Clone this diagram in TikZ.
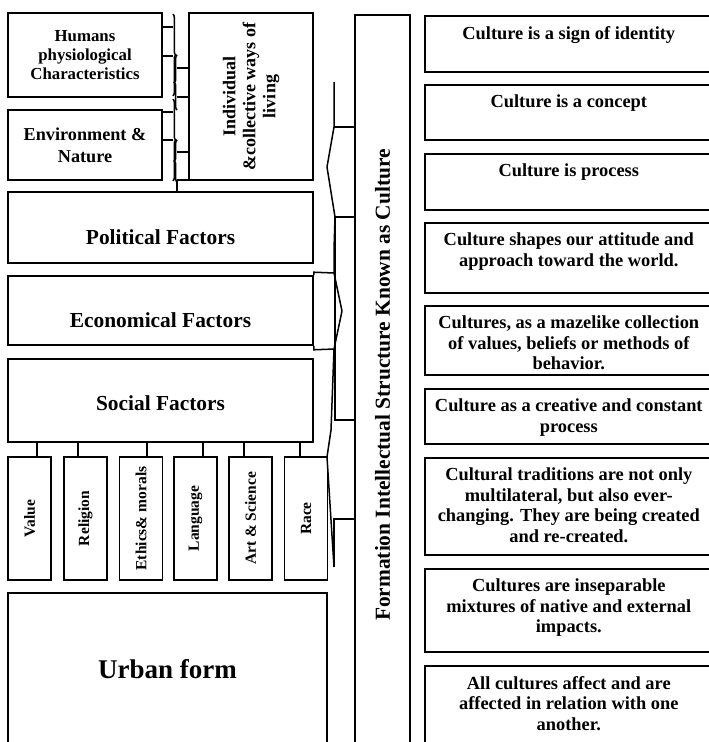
\documentclass[tikz,border=0pt]{standalone}
\usepackage{fontspec}
\setmainfont{Liberation Serif}
\usetikzlibrary{positioning,calc,decorations.pathreplacing}
\tikzset{
  box/.style={draw, line width=1.6pt, align=center, inner sep=2pt},
  lbox/.style={box, minimum width=154},
  fbox/.style={box, minimum width=305},
  ftext/.style={font=\fontsize{21.4}{24}\selectfont\bfseries},
  sbox/.style={box, rotate=90, minimum width=123, minimum height=43, font=\fontsize{15.5}{18}\selectfont\bfseries},
  cbox/.style={box, anchor=north west, minimum width=288},
  ctext/.style={anchor=north, yshift=-11, inner sep=0pt, align=center, font=\fontsize{18.4}{20.5}\selectfont\bfseries},
  conn/.style={line width=1.5pt},
  brc/.style={conn, decorate, decoration={brace, amplitude=3pt}}
}

\begin{document}
\begin{tikzpicture}[x=1pt,y=1pt]
\useasboundingbox (0,0) rectangle (709,-742);
\clip (0,0) rectangle (709,-742);
\fill[white] (0,0) rectangle (709,-742);
\node[lbox, minimum height=84, font=\fontsize{16.8}{19}\selectfont\bfseries] (hum) at (85,-55) {Humans\\ physiological\\ Characteristics};
\node[lbox, minimum height=70, font=\fontsize{18.2}{21.7}\selectfont\bfseries] (env) at (85,-145) {Environment \&\\ Nature};
\node[box, rotate=90, minimum width=167, minimum height=124, font=\fontsize{18}{20}\selectfont\bfseries] (ind) at (251,-96.5) {Individual\\ \&collective ways of\\ living};
\node[fbox, minimum height=71, label={[ftext, yshift=-10]center:Political Factors}] (pol) at (160.5,-227.5) {};
\node[fbox, minimum height=69, label={[ftext, yshift=-9.5]center:Economical Factors}] (econ) at (160.5,-310.5) {};
\node[fbox, minimum height=83, label={[ftext, yshift=-2.5]center:Social Factors}] (soc) at (160.5,-400.5) {};
\node[sbox] (v1) at (29.5,-518.5) {Value};
\node[sbox] (v2) at (85.5,-518.5) {Religion};
\node[sbox] (v3) at (141,-518.5) {Ethics\& morals};
\node[sbox] (v4) at (195.5,-518.5) {Language};
\node[sbox] (v5) at (250.5,-518.5) {Art \& Science};
\node[sbox] (v6) at (306,-518.5) {Race};
\node[box, minimum width=319, minimum height=152, font=\fontsize{27}{32}\selectfont\bfseries] (urban) at (167.5,-669) {Urban form};
\node[box, rotate=90, minimum width=740, minimum height=55, font=\fontsize{21.4}{24}\selectfont\bfseries] (form) at (382.5,-385) {Formation Intellectual Structure Known as Culture};
\node[cbox, minimum height=56, label={[ctext]north:{Culture is a sign of identity}}] (c1) at (424,-15) {};
\node[cbox, minimum height=55, label={[ctext]north:{Culture is a concept}}] (c2) at (424,-84) {};
\node[cbox, minimum height=56, label={[ctext]north:{Culture is process}}] (c3) at (424,-153) {};
\node[cbox, minimum height=70, label={[ctext]north:{Culture shapes our attitude and\\ approach toward the world.}}] (c4) at (424,-222) {};
\node[cbox, minimum height=69, label={[ctext]north:{Cultures, as a mazelike collection\\ of values, beliefs or methods of\\ behavior.}}] (c5) at (424,-305) {};
\node[cbox, minimum height=55, label={[ctext]north:{Culture as a creative and constant\\ process}}] (c6) at (424,-388) {};
\node[cbox, minimum height=97, label={[ctext]north:{Cultural traditions are not only\\ multilateral, but also ever-\\ changing. They are being created\\ and re-created.}}] (c7) at (424,-457) {};
\node[cbox, minimum height=83, label={[ctext]north:{Cultures are inseparable\\ mixtures of native and external\\ impacts.}}] (c8) at (424,-568) {};
\node[cbox, minimum height=90, label={[ctext]north:{All cultures affect and are\\ affected in relation with one\\ another.}}] (c9) at (424,-665) {};
\draw[conn] ([yshift=28]hum.east) -- ++(10,0);
\draw[conn] ([yshift=-1]hum.east) -- ++(10,0);
\draw[brc] ([xshift=10,yshift=-2]hum.north east) -- ([xshift=10,yshift=2]hum.south east);
\draw[conn] ([yshift=28.5]ind.north) -- ++(-11,0);
\draw[conn] ([yshift=-0.5]ind.north) -- ++(-11,0);
\draw[brc] ([xshift=-11,yshift=-13.5]ind.north) -- ([xshift=-11,yshift=41.5]ind.north);
\draw[conn] ([yshift=33]env.east) -- ++(10,0);
\draw[conn] ([yshift=5]env.east) -- ++(10,0);
\draw[brc] ([xshift=10,yshift=10]env.north east) -- ([xshift=10]env.south east);
\draw[conn] ([yshift=-55.5]ind.north) -- ++(-11,0);
\draw[conn] ([yshift=-83.5]ind.north) -- ++(-11,0);
\draw[brc] ([xshift=-11,yshift=-85.5]ind.north) -- ([xshift=-11,yshift=-43.5]ind.north);
\coordinate (ib) at ([xshift=-11,yshift=-83.5]ind.north);
\draw[conn] (ib) -- (ib |- pol.north);
\coordinate (s1) at (334,-82);
\coordinate (s2) at (334,-127);
\coordinate (s3) at (327,-167);
\coordinate (s4) at (335,-217);
\coordinate (s5) at (334,-273);
\coordinate (s6) at (342,-311);
\coordinate (s7) at (334,-349);
\coordinate (s8) at (335,-420);
\coordinate (s9) at (327,-457);
\coordinate (s10) at (334,-567);
\coordinate (s11) at (334,-519);
\draw[conn, line join=round] (s1) -- (s2) -- (s3) -- (s4) -- (334,-250) -- (s5) -- (s6) -- (s7) -- (331,-430) -- (s9) -- (s10);
\draw[conn] (s2) -- (s2 -| form.north);
\draw[conn] (s4 -| form.north) -- (s4) -- (s8) -- (s8 -| form.north);
\draw[conn] (econ.north east) -- ++(0,3) -- (s5);
\draw[conn] (econ.south east) -- ++(0,-4) -- (s7);
\draw[conn] (s11 -| form.north) -- (s11) -- (s10);
\draw[conn] ([xshift=7.5]v1.east) -- ([xshift=7.5]v1.east |- soc.south);
\draw[conn] ([xshift=-7.5]v2.east) -- ([xshift=-7.5]v2.east |- soc.south);
\draw[conn] ([xshift=6]v3.east) -- ([xshift=6]v3.east |- soc.south);
\draw[conn] ([xshift=7.5]v4.east) -- ([xshift=7.5]v4.east |- soc.south);
\draw[conn] ([xshift=-6.5]v5.east) -- ([xshift=-6.5]v5.east |- soc.south);
\draw[conn] ([xshift=-6]v6.east) -- ([xshift=-6]v6.east |- soc.south);
\end{tikzpicture}
\end{document}
